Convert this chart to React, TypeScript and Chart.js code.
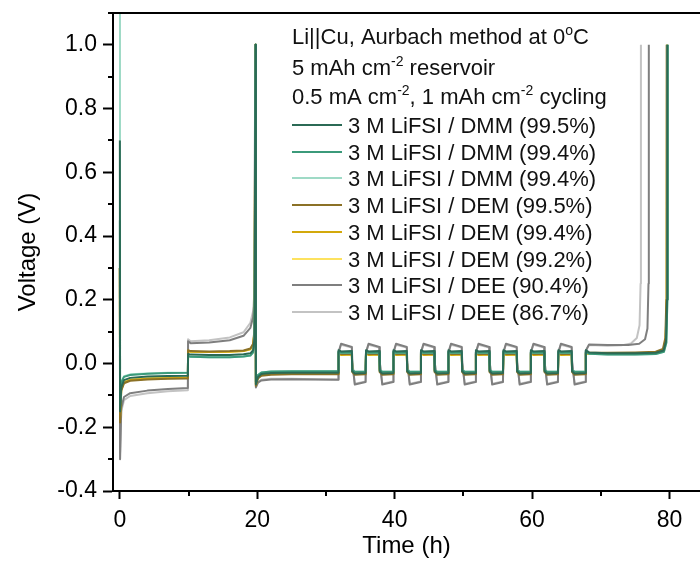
import React, { useEffect, useRef } from 'react';
import { Chart, registerables } from 'chart.js';

Chart.register(...registerables);

// ---------- series meta ----------
const SERIES_LABELS = [
  '3 M LiFSI / DMM (99.5%)',
  '3 M LiFSI / DMM (99.4%)',
  '3 M LiFSI / DMM (99.4%)',
  '3 M LiFSI / DEM (99.5%)',
  '3 M LiFSI / DEM (99.4%)',
  '3 M LiFSI / DEM (99.2%)',
  '3 M LiFSI / DEE (90.4%)',
  '3 M LiFSI / DEE (86.7%)',
];
const SERIES_COLORS = ['#2b6a55', '#3b9a7a', '#9fdac6', '#8b7126', '#d3a90c', '#fde25f', '#7f7f7f', '#c3c3c3'];

const HEADER_LINES = [
  [{ t: 'Li||Cu, Aurbach method at 0' }, { t: 'o', sup: true }, { t: 'C' }],
  [{ t: '5 mAh cm' }, { t: '-2', sup: true }, { t: ' reservoir' }],
  [{ t: '0.5 mA cm' }, { t: '-2', sup: true }, { t: ', 1 mAh cm' }, { t: '-2', sup: true }, { t: ' cycling' }],
];

// ---------- axes ----------
const X_MIN = -1.0;
const X_MAX = 84.45;
const Y_MIN = -0.4;
const Y_MAX = 1.1;
const X_STEP = 20;
const Y_STEP = 0.2;
const X_MINOR_TICKS = [10, 30, 50, 70];
const Y_MINOR_TICKS = [-0.3, -0.1, 0.1, 0.3, 0.5, 0.7, 0.9, 1.1];
const CUTOFF_V = 1.0;

// ---------- data (time in h, voltage in V) ----------
// Phase 1: initial Li deposition on Cu
const PLATE1_TIMES = [0, 0.03, 0.2, 0.6, 1.5, 4, 7, 9.9];
const PLATE1_VOLTS = [
  [0.70, -0.15, -0.075, -0.052, -0.045, -0.041, -0.039, -0.038],
  [0.45, -0.13, -0.06, -0.042, -0.036, -0.032, -0.030, -0.029],
  [2.5, -0.12, -0.058, -0.040, -0.034, -0.031, -0.029, -0.028],
  [0.30, -0.185, -0.085, -0.062, -0.054, -0.050, -0.048, -0.047],
  [0.30, -0.175, -0.082, -0.060, -0.052, -0.048, -0.046, -0.045],
  [0.30, -0.165, -0.078, -0.057, -0.050, -0.046, -0.044, -0.043],
  [0.30, -0.30, -0.14, -0.105, -0.093, -0.085, -0.080, -0.077],
  [0.30, -0.28, -0.15, -0.115, -0.102, -0.093, -0.087, -0.084],
];

// Phase 2: stripping to the 1 V cut-off
const STRIP1_TIMES = [9.93, 10.3, 13, 16, 18, 19, 19.4, 19.6];
const STRIP1_VOLTS = [
  [0.030, 0.028, 0.027, 0.027, 0.029, 0.032, 0.042, 0.08],
  [0.024, 0.021, 0.020, 0.020, 0.022, 0.025, 0.035, 0.07],
  [0.024, 0.021, 0.020, 0.020, 0.022, 0.025, 0.035, 0.07],
  [0.042, 0.039, 0.038, 0.039, 0.041, 0.047, 0.062, 0.11],
  [0.040, 0.037, 0.036, 0.037, 0.039, 0.045, 0.060, 0.10],
  [0.040, 0.037, 0.036, 0.037, 0.039, 0.045, 0.060, 0.10],
  [0.070, 0.064, 0.066, 0.073, 0.087, 0.112, 0.145, 0.20],
  [0.076, 0.070, 0.073, 0.082, 0.098, 0.128, 0.165, 0.23],
];
const SPIKE1_TIMES = [19.75, 19.76, 19.76, 19.72, 19.73, 19.73, 19.7, 19.7];

// Phase 3: 5 mAh reservoir deposition
const PLATE2_TIMES = [19.8, 20.1, 20.6, 22, 25, 28.5, 31.77];
const PLATE2_VOLTS = [
  [-0.065, -0.042, -0.033, -0.030, -0.029, -0.029, -0.029],
  [-0.058, -0.036, -0.028, -0.025, -0.024, -0.024, -0.024],
  [-0.058, -0.036, -0.028, -0.025, -0.024, -0.024, -0.024],
  [-0.070, -0.047, -0.038, -0.035, -0.034, -0.034, -0.034],
  [-0.066, -0.044, -0.036, -0.033, -0.032, -0.032, -0.032],
  [-0.066, -0.044, -0.036, -0.033, -0.032, -0.032, -0.032],
  [-0.075, -0.060, -0.053, -0.050, -0.049, -0.050, -0.051],
  [-0.073, -0.058, -0.051, -0.048, -0.048, -0.049, -0.050],
];

// Phase 4: 1 mAh strip / plate cycles
const CYCLE_STARTS = [31.8, 35.8, 39.8, 43.8, 47.8, 51.8, 55.8, 59.8, 63.8];
const CYCLE_OFFSETS = [0.03, 0.4, 1.97, 2.03, 2.4, 3.97];
const CYCLE_VOLTS = [
  [0.042, 0.038, 0.039, -0.024, -0.031, -0.030],
  [0.037, 0.034, 0.035, -0.020, -0.026, -0.025],
  [0.037, 0.034, 0.035, -0.020, -0.026, -0.025],
  [0.034, 0.030, 0.031, -0.027, -0.035, -0.034],
  [0.031, 0.027, 0.028, -0.023, -0.031, -0.030],
  [0.031, 0.027, 0.028, -0.023, -0.031, -0.030],
  [0.035, 0.062, 0.052, 0.005, -0.066, -0.058],
  [0.035, 0.059, 0.050, 0.005, -0.063, -0.056],
];

// Phase 5: final strip to the cut-off
const FINAL_TIMES = [
  [67.83, 68.3, 71, 75, 78, 79.15, 79.5, 79.65, 79.7],
  [67.83, 68.3, 71, 75, 78, 79.2, 79.55, 79.7, 79.75],
  [67.83, 68.3, 71, 75, 78, 79.2, 79.55, 79.7, 79.75],
  [67.83, 68.3, 71, 75, 78, 79.05, 79.4, 79.55, 79.6],
  [67.83, 68.3, 71, 75, 78, 79.1, 79.45, 79.6, 79.65],
  [67.83, 68.3, 71, 75, 78, 79.1, 79.45, 79.6, 79.65],
  [67.83, 68.3, 71, 74, 75.6, 76.45, 76.8, 76.95, 77.0],
  [67.83, 68.3, 71, 73, 74.4, 75.25, 75.65, 75.8, 75.85],
];
const FINAL_VOLTS = [
  [0.042, 0.035, 0.032, 0.032, 0.034, 0.041, 0.07, 0.2, 1.0],
  [0.037, 0.031, 0.028, 0.028, 0.030, 0.037, 0.065, 0.2, 1.0],
  [0.037, 0.031, 0.028, 0.028, 0.030, 0.037, 0.065, 0.2, 1.0],
  [0.035, 0.034, 0.034, 0.035, 0.037, 0.046, 0.08, 0.2, 1.0],
  [0.032, 0.030, 0.031, 0.032, 0.034, 0.043, 0.075, 0.2, 1.0],
  [0.032, 0.030, 0.031, 0.032, 0.034, 0.043, 0.075, 0.2, 1.0],
  [0.040, 0.060, 0.058, 0.058, 0.062, 0.076, 0.11, 0.25, 1.0],
  [0.040, 0.058, 0.056, 0.057, 0.063, 0.080, 0.12, 0.25, 1.0],
];

// ---------- layout constants ----------
const FAMILY = "'Liberation Sans', Arial, Helvetica, sans-serif";
const TEXT_SIZE = 22;
const HEADER_X = 292;
const HEADER_BASELINES = [44, 74.5, 104];
const LEGEND_FIRST_BASELINE = 133;
const LEGEND_ROW = 26.7;
const LEGEND_LINE_X0 = 292;
const LEGEND_LINE_X1 = 342;
const LEGEND_TEXT_X = 348;

function buildPoints(i: number) {
  const pts: { x: number; y: number }[] = [];
  PLATE1_TIMES.forEach((t, k) => pts.push({ x: t, y: PLATE1_VOLTS[i][k] }));
  STRIP1_TIMES.forEach((t, k) => pts.push({ x: t, y: STRIP1_VOLTS[i][k] }));
  pts.push({ x: SPIKE1_TIMES[i], y: CUTOFF_V });
  PLATE2_TIMES.forEach((t, k) => pts.push({ x: t, y: PLATE2_VOLTS[i][k] }));
  CYCLE_STARTS.forEach((s) =>
    CYCLE_OFFSETS.forEach((o, k) => pts.push({ x: s + o, y: CYCLE_VOLTS[i][k] }))
  );
  FINAL_TIMES[i].forEach((t, k) => pts.push({ x: t, y: FINAL_VOLTS[i][k] }));
  return pts;
}

function drawRich(ctx: CanvasRenderingContext2D, x: number, baseline: number, parts: { t: string; sup?: boolean }[], size: number) {
  let cx = x;
  for (const p of parts) {
    if (p.sup) {
      ctx.font = `${Math.round(size * 0.62)}px ${FAMILY}`;
      ctx.fillText(p.t, cx, baseline - size * 0.4);
    } else {
      ctx.font = `${size}px ${FAMILY}`;
      ctx.fillText(p.t, cx, baseline);
    }
    cx += ctx.measureText(p.t).width;
  }
}

const overlayPlugin = {
  id: 'overlay',
  afterDraw(chart: any) {
    const ctx: CanvasRenderingContext2D = chart.ctx;
    const { left, right, top, bottom } = chart.chartArea;
    const xs = chart.scales.x;
    const ys = chart.scales.y;
    ctx.save();
    ctx.strokeStyle = '#000';
    ctx.lineWidth = 2;
    ctx.beginPath();
    ctx.moveTo(left - 1, top);
    ctx.lineTo(right, top);
    X_MINOR_TICKS.forEach((v) => {
      const px = Math.round(xs.getPixelForValue(v));
      ctx.moveTo(px, bottom);
      ctx.lineTo(px, bottom + 5);
    });
    Y_MINOR_TICKS.forEach((v) => {
      const py = Math.round(ys.getPixelForValue(v));
      ctx.moveTo(left, py);
      ctx.lineTo(left - 5, py);
    });
    ctx.stroke();

    ctx.fillStyle = '#111';
    ctx.textBaseline = 'alphabetic';
    ctx.textAlign = 'left';
    HEADER_LINES.forEach((parts, k) => drawRich(ctx, HEADER_X, HEADER_BASELINES[k], parts, TEXT_SIZE));

    SERIES_LABELS.forEach((label, k) => {
      const base = LEGEND_FIRST_BASELINE + k * LEGEND_ROW;
      const ly = Math.round(base - 8);
      ctx.strokeStyle = SERIES_COLORS[k];
      ctx.lineWidth = 2;
      ctx.beginPath();
      ctx.moveTo(LEGEND_LINE_X0, ly);
      ctx.lineTo(LEGEND_LINE_X1, ly);
      ctx.stroke();
      ctx.fillStyle = '#111';
      ctx.font = `${TEXT_SIZE}px ${FAMILY}`;
      ctx.fillText(label, LEGEND_TEXT_X, base);
    });
    ctx.restore();
  },
};

export default function App() {
  const ref = useRef<HTMLCanvasElement | null>(null);
  useEffect(() => {
    if (!ref.current) return;
    const tickFont = { family: FAMILY, size: 23 };
    const titleFont = { family: FAMILY, size: 24 };
    const chart = new Chart(ref.current, {
      type: 'line',
      data: {
        datasets: SERIES_LABELS.map((label, i) => ({
          label,
          data: buildPoints(i),
          borderColor: SERIES_COLORS[i],
          backgroundColor: SERIES_COLORS[i],
          borderWidth: 2,
          pointRadius: 0,
          tension: 0,
          fill: false,
          borderJoinStyle: 'round' as const,
        })),
      },
      options: {
        animation: false,
        responsive: false,
        devicePixelRatio: 1,
        parsing: true,
        layout: { padding: { top: 13, left: 0, right: 0, bottom: 0 } },
        plugins: { legend: { display: false }, tooltip: { enabled: false }, title: { display: false } },
        scales: {
          x: {
            type: 'linear',
            min: X_MIN,
            max: X_MAX,
            ticks: {
              stepSize: X_STEP,
              includeBounds: false,
              font: tickFont,
              color: '#000',
              padding: 8,
              maxRotation: 0,
              autoSkip: false,
              callback: (v: any) => String(Math.round(Number(v))),
            },
            grid: { drawOnChartArea: false, drawTicks: true, tickLength: 8, tickWidth: 2, tickColor: '#000' },
            border: { display: true, color: '#000', width: 2 },
            title: { display: true, text: 'Time (h)', font: titleFont, color: '#000', padding: { top: 0, bottom: 2 } },
            afterFit: (s: any) => {
              s.height = 72;
              s.paddingLeft = 0;
              s.paddingRight = 0;
            },
          },
          y: {
            type: 'linear',
            min: Y_MIN,
            max: Y_MAX,
            ticks: {
              stepSize: Y_STEP,
              includeBounds: false,
              font: tickFont,
              color: '#000',
              padding: 6,
              autoSkip: false,
              callback: (v: any) => {
                const n = Number(v);
                return (Math.abs(n) < 1e-9 ? 0 : n).toFixed(1);
              },
            },
            grid: { drawOnChartArea: false, drawTicks: true, tickLength: 10, tickWidth: 2, tickColor: '#000' },
            border: { display: true, color: '#000', width: 2 },
            title: { display: true, text: 'Voltage (V)', font: titleFont, color: '#000', padding: { top: 14, bottom: 0 } },
            afterFit: (s: any) => {
              s.width = 113;
              s.paddingTop = 0;
              s.paddingBottom = 0;
            },
          },
        },
      } as any,
      plugins: [overlayPlugin],
    });
    return () => chart.destroy();
  }, []);
  return (
    <div style={{ position: 'fixed', left: 0, top: 0, width: 700, height: 563, background: '#fff' }}>
      <canvas ref={ref} width={700} height={563} style={{ display: 'block', width: 700, height: 563 }} />
    </div>
  );
}
